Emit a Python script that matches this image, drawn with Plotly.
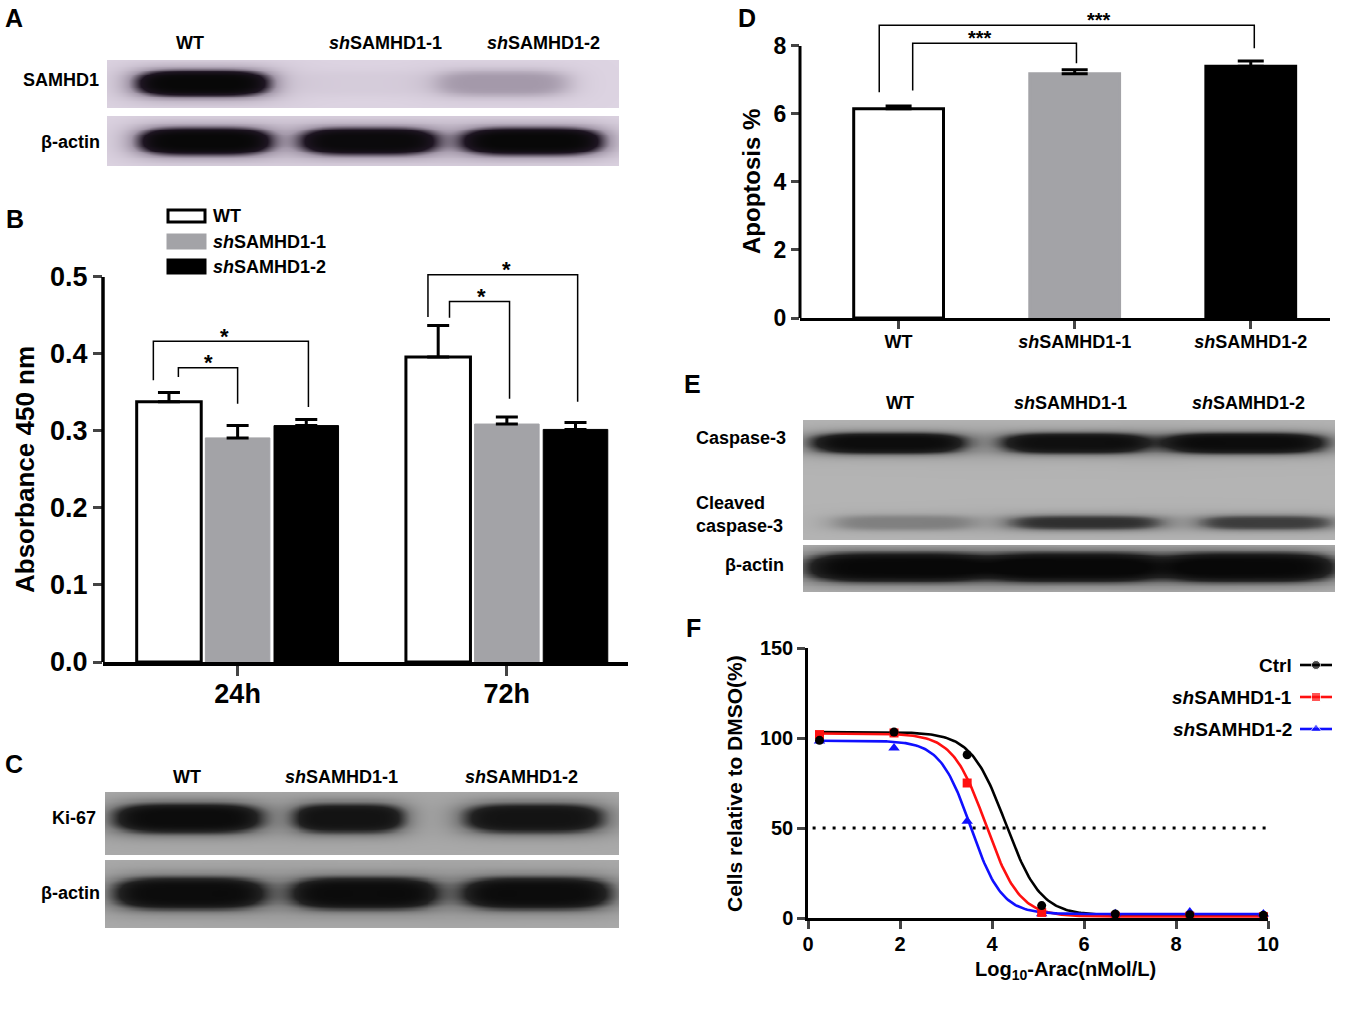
import numpy as np
import plotly.graph_objects as go

W, H = 1346, 1012
FONT = "Liberation Sans, Arial, sans-serif"

lane_names = ["WT", "<i>sh</i>SAMHD1-1", "<i>sh</i>SAMHD1-2"]

# A - western blot band strength (0 = nothing, 1 = saturated)
samhd1_bands = [1.0, 0.04, 0.30]
actin_a_bands = [1.0, 0.95, 1.0]

# B - CCK-8 absorbance
time_points = ["24h", "72h"]
wt_abs = [0.338, 0.396]
wt_abs_err = [0.012, 0.041]
sh1_abs = [0.291, 0.309]
sh1_abs_err = [0.016, 0.009]
sh2_abs = [0.307, 0.302]
sh2_abs_err = [0.008, 0.009]

# C - blot
ki67_bands = [0.95, 0.85, 0.85]
actin_c_bands = [0.95, 0.95, 0.95]

# D - apoptosis
apoptosis = [6.15, 7.18, 7.40]
apoptosis_err = [0.08, 0.12, 0.16]

# E - blot
casp3_bands = [0.95, 0.90, 0.95]
cleaved_bands = [0.30, 0.60, 0.55]
actin_e_bands = [1.0, 1.0, 1.0]

# F - dose response
log_arac = [0.25, 1.87, 3.46, 5.08, 6.68, 8.30, 9.90]
ctrl_cells = [98.7, 103.3, 90.7, 6.9, 2.2, 1.8, 1.5]
sh1_cells = [101.9, 102.8, 75.0, 3.1, 1.0, 1.0, 0.8]
sh2_cells = [98.3, 94.4, 53.7, 2.4, 2.4, 3.4, 2.2]
# fitted 4PL parameters: top, bottom, logIC50, hill
ctrl_fit = [103.3, 1.5, 4.30, 1.15]
sh1_fit = [102.5, 0.8, 3.87, 1.2]
sh2_fit = [98.5, 2.2, 3.54, 1.3]
half_level = 50


def xd(a, b):
    return [a / W, b / W]


def yd(top, bottom):
    return [1 - bottom / H, 1 - top / H]


def blot_z(centers, half_w, yc, half_h, levels, nx=260, ny=60):
    xs = np.linspace(0, 1, nx)
    ys = np.linspace(0, 1, ny)
    X, Y = np.meshgrid(xs, ys)
    z = np.zeros_like(X)
    for c, hw, lv in zip(centers, half_w, levels):
        s = np.abs((X - c) / hw) ** 4 + np.abs((Y - yc) / half_h) ** 2.5
        z += lv / (1 + s ** 2)
    return xs, ys, z


def blot_scale(bg, mid, dark):
    return [[0, bg], [0.3, mid], [0.65, dark], [1, "#080808"]]


fig = go.Figure()

lav = blot_scale("#ddd4e2", "#a499aa", "#1e1522")
grey_c = blot_scale("#ababab", "#7c7c7c", "#222222")
grey_e = blot_scale("#b4b4b4", "#808080", "#222222")

blots = []
xs, ys, z = blot_z([0.186, 0.50, 0.77], [0.131, 0.13, 0.13], 0.48, 0.27, samhd1_bands)
blots.append((1, xs, ys, z, lav))
xs, ys, z = blot_z([0.19, 0.51, 0.83], [0.13, 0.134, 0.138], 0.50, 0.27, actin_a_bands)
blots.append((2, xs, ys, z, lav))
xs, ys, z = blot_z([0.16, 0.474, 0.834], [0.146, 0.11, 0.139], 0.41, 0.24, ki67_bands)
blots.append((4, xs, ys, z, grey_c))
xs, ys, z = blot_z([0.163, 0.504, 0.84], [0.149, 0.144, 0.146], 0.485, 0.24, actin_c_bands)
blots.append((5, xs, ys, z, grey_c))
xs, ys, z1 = blot_z([0.16, 0.51, 0.83], [0.147, 0.139, 0.155], 0.19, 0.085, casp3_bands)
xs, ys, z2 = blot_z([0.19, 0.53, 0.87], [0.135, 0.15, 0.13], 0.85, 0.065, cleaved_bands)
blots.append((7, xs, ys, z1 + z2, grey_e))
xs, ys, z = blot_z([0.177, 0.51, 0.84], [0.174, 0.162, 0.163], 0.47, 0.32, actin_e_bands)
blots.append((8, xs, ys, z, grey_e))

for n, bx, by, bz, cs in blots:
    fig.add_trace(go.Heatmap(x=bx, y=by, z=np.minimum(bz, 1), zmin=0, zmax=1,
                             colorscale=cs, showscale=False, zsmooth="best",
                             hoverinfo="skip", xaxis="x%d" % n, yaxis="y%d" % n))

# B bars
grey = "#a3a3a7"
b_series = [(wt_abs, wt_abs_err, "white", "black", 3),
            (sh1_abs, sh1_abs_err, grey, grey, 1),
            (sh2_abs, sh2_abs_err, "black", "black", 1)]
for vals, errs, fill, edge, lw in b_series:
    fig.add_trace(go.Bar(x=[0, 1], y=vals, marker=dict(color=fill, line=dict(color=edge, width=lw)),
                         error_y=dict(type="data", array=errs, arrayminus=[0, 0], symmetric=False,
                                      color="black", thickness=3, width=11),
                         xaxis="x3", yaxis="y3", showlegend=False))

# D bars
fig.add_trace(go.Bar(x=[0, 1, 2], y=apoptosis, width=0.51,
                     marker=dict(color=["white", grey, "black"],
                                 line=dict(color=["black", grey, "black"], width=3)),
                     error_y=dict(type="data", array=apoptosis_err, arrayminus=[0, 0, 0], symmetric=False,
                                  color="black", thickness=3, width=13),
                     xaxis="x6", yaxis="y6", showlegend=False))

# F curves
f_series = [(ctrl_cells, ctrl_fit, "black", "circle", 9),
            (sh1_cells, sh1_fit, "#ff1010", "square", 9),
            (sh2_cells, sh2_fit, "#1010ff", "triangle-up", 10)]
fig.add_trace(go.Scatter(x=[0.1, 10], y=[half_level, half_level], mode="lines",
                         line=dict(color="black", width=3, dash="3px,7px"),
                         xaxis="x9", yaxis="y9", showlegend=False, hoverinfo="skip"))
xf = np.linspace(log_arac[0], log_arac[-1], 300)
for pts, fit, col, sym, ms in f_series:
    top, bottom, ic50, hill = fit
    yf = bottom + (top - bottom) / (1 + 10 ** ((xf - ic50) * hill))
    fig.add_trace(go.Scatter(x=xf, y=yf, mode="lines", line=dict(color=col, width=2.6),
                             xaxis="x9", yaxis="y9", showlegend=False, hoverinfo="skip"))
# ctrl points drawn last so they sit on top
for pts, fit, col, sym, ms in reversed(f_series):
    fig.add_trace(go.Scatter(x=log_arac, y=pts, mode="markers", cliponaxis=False,
                             marker=dict(color=col, symbol=sym, size=ms),
                             xaxis="x9", yaxis="y9", showlegend=False))

# F legend glyphs
for i, (pts, fit, col, sym, ms) in enumerate(f_series):
    fig.add_trace(go.Scatter(x=[0.1, 0.5, 0.9], y=[i + 0.5] * 3, mode="lines+markers", cliponaxis=False,
                             line=dict(color=col, width=2.6),
                             marker=dict(color=col, symbol=sym, size=[0, ms, 0]),
                             xaxis="x10", yaxis="y10", showlegend=False, hoverinfo="skip"))

tick_font = dict(family=FONT, size=27, color="black", weight="bold")
axis_common = dict(showgrid=False, zeroline=False, fixedrange=True, automargin=False)
hidden = dict(visible=False, fixedrange=True, automargin=False)

layout = dict(
    width=W, height=H, margin=dict(l=0, r=0, t=0, b=0, pad=0, autoexpand=False),
    paper_bgcolor="white", plot_bgcolor="rgba(0,0,0,0)",
    font=dict(family=FONT, color="black", weight="bold"),
    barmode="group", bargap=0.235, bargroupgap=0.06,
)

blot_dom = {1: (xd(107, 619), yd(60, 108)), 2: (xd(107, 619), yd(116, 166)),
            4: (xd(105, 619), yd(792, 855)), 5: (xd(105, 619), yd(860, 928)),
            7: (xd(803, 1335), yd(420, 540)), 8: (xd(803, 1335), yd(545, 592))}
for n, (dx, dy) in blot_dom.items():
    sfx = "" if n == 1 else str(n)
    layout["xaxis" + sfx] = dict(domain=dx, range=[0, 1], anchor="y" + sfx if sfx else "y", **hidden)
    layout["yaxis" + sfx] = dict(domain=dy, range=[1, 0], anchor="x" + sfx if sfx else "x", **hidden)

# B axes
layout["xaxis3"] = dict(domain=xd(103, 628), range=[-0.5, 1.45], anchor="y3",
                        tickvals=[0, 1], ticktext=time_points, ticks="outside", ticklen=10, tickwidth=3,
                        ticklabelstandoff=-5,
                        showline=True, linewidth=3.5, linecolor="black",
                        tickfont=dict(family=FONT, size=27, weight="bold"), **axis_common)
layout["yaxis3"] = dict(domain=yd(250, 662), range=[0, 0.535], anchor="x3",
                        tickvals=[0, 0.1, 0.2, 0.3, 0.4, 0.5], tickformat=".1f",
                        ticks="outside", ticklen=9, tickwidth=3, showline=False,
                        tickfont=tick_font, **axis_common)
# D axes
layout["xaxis6"] = dict(domain=xd(800, 1330), range=[-0.56, 2.45], anchor="y6",
                        tickvals=[0, 1, 2], ticktext=lane_names, ticks="outside", ticklen=8, tickwidth=3,
                        ticklabelstandoff=-3,
                        showline=True, linewidth=3, linecolor="black",
                        tickfont=dict(family=FONT, size=18, weight="bold"), **axis_common)
layout["yaxis6"] = dict(domain=yd(0, 318), range=[0, 9.35], anchor="x6",
                        tickvals=[0, 2, 4, 6, 8], ticks="outside", ticklen=8, tickwidth=3, showline=False,
                        tickfont=dict(family=FONT, size=23, weight="bold"), **axis_common)
# F axes
layout["xaxis9"] = dict(domain=xd(808, 1268), range=[0, 10], anchor="y9",
                        tickvals=[0, 2, 4, 6, 8, 10], ticks="outside", ticklen=8, tickwidth=2.5,
                        ticklabelstandoff=-2,
                        showline=True, linewidth=2.5, linecolor="black",
                        tickfont=dict(family=FONT, size=20, weight="bold"), **axis_common)
layout["yaxis9"] = dict(domain=yd(648, 918), range=[0, 150], anchor="x9",
                        tickvals=[0, 50, 100, 150], ticks="outside", ticklen=8, tickwidth=2.5,
                        showline=True, linewidth=2.5, linecolor="black",
                        tickfont=dict(family=FONT, size=20, weight="bold"), **axis_common)
layout["xaxis10"] = dict(domain=xd(1296, 1336), range=[0, 1], anchor="y10", **hidden)
layout["yaxis10"] = dict(domain=yd(649, 745), range=[3, 0], anchor="x10", **hidden)

shapes = []
# manual y axis lines that stop at the top tick
shapes.append(dict(type="line", xref="x3 domain", yref="y3", x0=0, x1=0, y0=0, y1=0.5,
                   line=dict(color="black", width=3.5)))
shapes.append(dict(type="line", xref="x6 domain", yref="y6", x0=0, x1=0, y0=0, y1=8,
                   line=dict(color="black", width=3)))

# significance brackets: x left, x right, y top, y left end, y right end, star x, label
b_brackets = [(-0.313, 0.263, 0.4165, 0.366, 0.331, -0.05, "*"),
              (-0.22, 0.0, 0.382, 0.370, 0.3355, -0.11, "*"),
              (0.707, 1.263, 0.503, 0.448, 0.338, 1.0, "*"),
              (0.787, 1.01, 0.468, 0.447, 0.342, 0.906, "*")]
d_brackets = [(-0.11, 2.02, 8.61, 6.64, 7.93, 1.14, "***"),
              (0.08, 1.01, 8.08, 6.69, 7.49, 0.46, "***")]

annotations = []
for ax, brs, size in [("3", b_brackets, 22), ("6", d_brackets, 20)]:
    for xl, xr, yt, yl, yr, sx, lab in brs:
        shapes.append(dict(type="path", xref="x" + ax, yref="y" + ax,
                           path="M %f,%f L %f,%f L %f,%f L %f,%f" % (xl, yl, xl, yt, xr, yt, xr, yr),
                           line=dict(color="black", width=1.5)))
        annotations.append(dict(x=sx, y=yt, xref="x" + ax, yref="y" + ax, text=lab, showarrow=False,
                                yanchor="middle", yshift=5, font=dict(size=size, family=FONT)))

# B legend swatches
leg_b = [("WT", "white", "black", 210, 222), (lane_names[1], grey, grey, 235, 248),
         (lane_names[2], "black", "black", 260, 273)]
for lab, fill, edge, t, b in leg_b:
    shapes.append(dict(type="rect", xref="paper", yref="paper", x0=168 / W, x1=205 / W,
                       y0=1 - b / H, y1=1 - t / H, fillcolor=fill, line=dict(color=edge, width=3)))
    annotations.append(dict(x=211 / W, y=1 - (t + b) / 2 / H, xref="paper", yref="paper", text=lab,
                            xanchor="left", yanchor="middle", showarrow=False,
                            font=dict(size=18, family=FONT)))


def txt(x, y, s, size, xanchor="center", angle=0, align="center"):
    annotations.append(dict(x=x / W, y=1 - y / H, xref="paper", yref="paper", text=s, showarrow=False,
                            xanchor=xanchor, yanchor="middle", textangle=angle, align=align,
                            font=dict(size=size, family=FONT)))


# panel letters
for letter, x, y in [("A", 14, 18), ("B", 15, 219), ("C", 14, 764), ("D", 747, 18), ("E", 693, 384), ("F", 694, 628)]:
    txt(x, y, letter, 25)

# lane labels over blots
for xs_lab, y in [([190, 385, 543], 43), ([187, 341, 521], 777), ([900, 1070, 1248], 403)]:
    for xl, lab in zip(xs_lab, lane_names):
        txt(xl, y, lab, 18)

txt(101, 80, "SAMHD1", 18, xanchor="right")
txt(102, 142, "β-actin", 18, xanchor="right")
txt(98, 818, "Ki-67", 18, xanchor="right")
txt(102, 893, "β-actin", 18, xanchor="right")
txt(788, 438, "Caspase-3", 18, xanchor="right")
txt(694, 514, "Cleaved<br>caspase-3", 18, xanchor="left", align="left")
txt(786, 565, "β-actin", 18, xanchor="right")

# axis titles
txt(25, 470, "Absorbance 450 nm", 26, angle=-90)
txt(752, 182, "Apoptosis %", 24, angle=-90)
txt(734, 783, "Cells relative to DMSO(%)", 21, angle=-90)
txt(1065, 970, "Log<sub>10</sub>-Arac(nMol/L)", 20)

# F legend text
for i, lab in enumerate(["Ctrl", lane_names[1], lane_names[2]]):
    annotations.append(dict(x=0, y=i + 0.5, xref="x10", yref="y10", text=lab, showarrow=False,
                            xanchor="right", yanchor="middle", xshift=-2,
                            font=dict(size=19, family=FONT)))

layout["shapes"] = shapes
layout["annotations"] = annotations
fig.update_layout(**layout)

fig.write_html("out.html", config={"displayModeBar": False},
               post_script="document.body.style.margin='0';document.body.style.overflow='hidden';"
                           "document.documentElement.style.overflow='hidden';")
